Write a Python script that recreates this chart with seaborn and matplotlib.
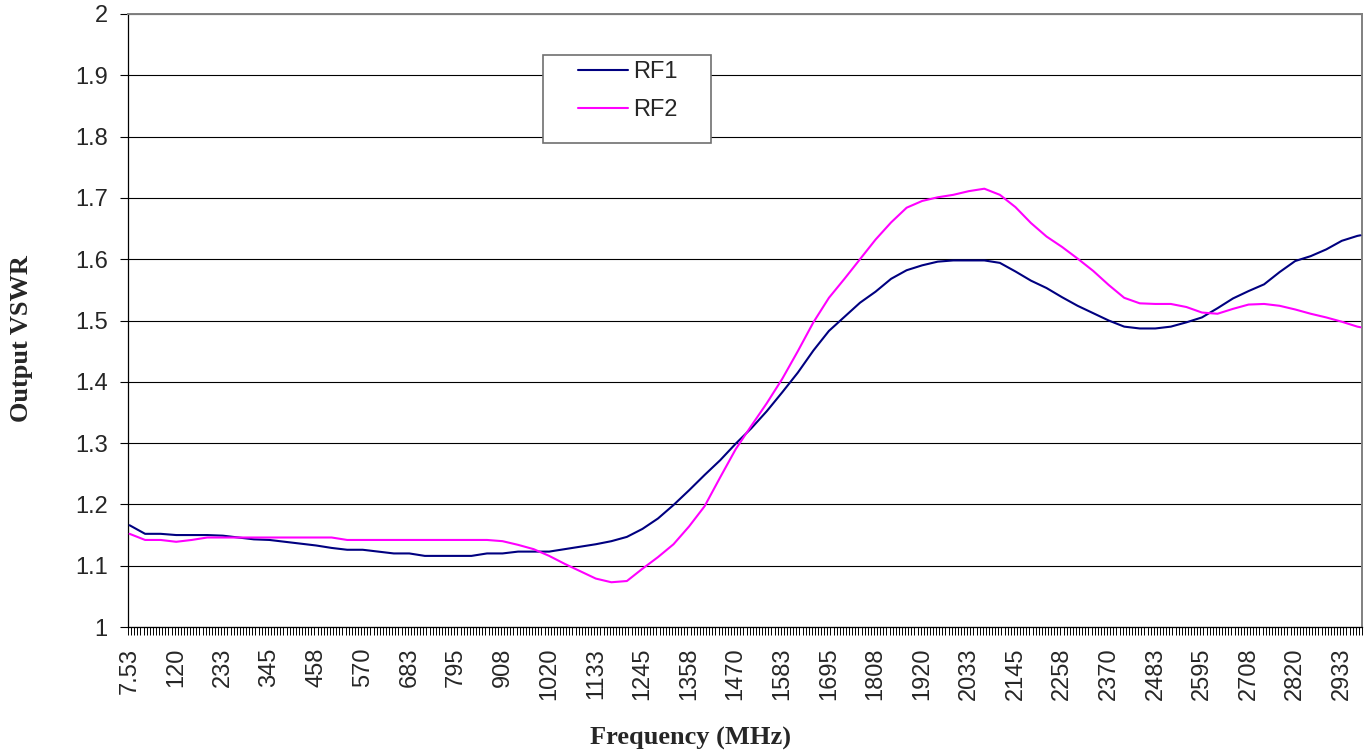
import numpy as np
import pandas as pd
import matplotlib
matplotlib.use("Agg")
import matplotlib.pyplot as plt
from matplotlib.patches import Rectangle
import seaborn as sns

# ---------------- data ----------------
freq_mhz = [7.53, 45.03, 82.53, 120.03, 157.53, 195.03, 232.53, 270.03, 307.53, 345.03,
            382.53, 420.03, 457.53, 495.03, 532.53, 570.03, 607.53, 645.03, 682.53, 720.03,
            757.53, 795.03, 832.53, 870.03, 907.53, 945.03, 982.53, 1020.03, 1057.53, 1095.03,
            1132.53, 1170.03, 1207.53, 1245.03, 1282.53, 1320.03, 1357.53, 1395.03, 1432.53, 1470.03,
            1507.53, 1545.03, 1582.53, 1620.03, 1657.53, 1695.03, 1732.53, 1770.03, 1807.53, 1845.03,
            1882.53, 1920.03, 1957.53, 1995.03, 2032.53, 2070.03, 2107.53, 2145.03, 2182.53, 2220.03,
            2257.53, 2295.03, 2332.53, 2370.03, 2407.53, 2445.03, 2482.53, 2520.03, 2557.53, 2595.03,
            2632.53, 2670.03, 2707.53, 2745.03, 2782.53, 2820.03, 2857.53, 2895.03, 2932.53, 2970.03,
            2977.53]

rf1_vswr = [1.166, 1.152, 1.152, 1.150, 1.150, 1.150, 1.149, 1.146, 1.143, 1.142,
            1.139, 1.136, 1.133, 1.129, 1.126, 1.126, 1.123, 1.120, 1.120, 1.116,
            1.116, 1.116, 1.116, 1.120, 1.120, 1.123, 1.123, 1.123, 1.127, 1.131,
            1.135, 1.140, 1.147, 1.160, 1.177, 1.199, 1.223, 1.248, 1.272, 1.299,
            1.324, 1.352, 1.383, 1.415, 1.451, 1.483, 1.506, 1.529, 1.547, 1.568,
            1.582, 1.590, 1.596, 1.598, 1.598, 1.598, 1.594, 1.580, 1.565, 1.553,
            1.538, 1.524, 1.512, 1.500, 1.490, 1.487, 1.487, 1.490, 1.497, 1.505,
            1.520, 1.536, 1.548, 1.559, 1.579, 1.597, 1.605, 1.616, 1.630, 1.638,
            1.639]

rf2_vswr = [1.152, 1.142, 1.142, 1.139, 1.142, 1.146, 1.146, 1.146, 1.146, 1.146,
            1.146, 1.146, 1.146, 1.146, 1.142, 1.142, 1.142, 1.142, 1.142, 1.142,
            1.142, 1.142, 1.142, 1.142, 1.140, 1.134, 1.127, 1.116, 1.103, 1.091,
            1.079, 1.073, 1.075, 1.095, 1.114, 1.135, 1.164, 1.197, 1.244, 1.290,
            1.328, 1.365, 1.405, 1.450, 1.497, 1.537, 1.568, 1.600, 1.632, 1.660,
            1.684, 1.695, 1.701, 1.705, 1.711, 1.715, 1.705, 1.685, 1.659, 1.637,
            1.620, 1.601, 1.581, 1.558, 1.537, 1.528, 1.527, 1.527, 1.522, 1.513,
            1.511, 1.519, 1.526, 1.527, 1.524, 1.518, 1.511, 1.505, 1.498, 1.490,
            1.489]

series_names = ["RF1", "RF2"]
series_colors = {"RF1": "#000080", "RF2": "#FF00FF"}

x_tick_labels = ["7.53", "120", "233", "345", "458", "570", "683", "795", "908", "1020",
                 "1133", "1245", "1358", "1470", "1583", "1695", "1808", "1920", "2033",
                 "2145", "2258", "2370", "2483", "2595", "2708", "2820", "2933"]
y_tick_values = [1.0, 1.1, 1.2, 1.3, 1.4, 1.5, 1.6, 1.7, 1.8, 1.9, 2.0]
y_tick_labels = ["1", "1.1", "1.2", "1.3", "1.4", "1.5", "1.6", "1.7", "1.8", "1.9", "2"]

freq_step = 7.5  # sweep spacing (category width) in MHz
x_title = "Frequency (MHz)"
y_title = "Output VSWR"

# ---------------- figure ----------------
sns.set_theme(style="white")
plt.rcParams['font.family'] = ['Liberation Sans', 'DejaVu Sans']

W, H = 1367, 755
fig = plt.figure(figsize=(W / 100, H / 100), dpi=100)
ax = fig.add_axes([128 / W, (H - 627) / H, (1362 - 128) / W, (627 - 14) / H])

n = len(freq_mhz)
df = pd.DataFrame({
    "Frequency": freq_mhz * 2,
    "VSWR": rf1_vswr + rf2_vswr,
    "Series": [series_names[0]] * n + [series_names[1]] * n,
})
sns.lineplot(data=df, x="Frequency", y="VSWR", hue="Series", hue_order=series_names,
             palette=series_colors, linewidth=1.5, estimator=None, sort=False,
             legend=False, ax=ax, zorder=3)

x_lo = freq_mhz[0] - freq_step / 2
x_hi = freq_mhz[-1] + freq_step / 2
ax.set_xlim(x_lo, x_hi)
ax.set_ylim(1.0, 2.0)

# y axis
ax.set_yticks(y_tick_values)
ax.set_yticklabels(y_tick_labels)
ax.tick_params(axis="y", which="major", direction="out", length=6, width=0.8,
               color="black", pad=8.5, labelsize=17, left=True)

# x axis: labels at category centres, ticks at category boundaries
ax.set_xticks([float(s) for s in x_tick_labels])
ax.set_xticklabels(x_tick_labels, rotation=90)
ax.set_xticks(np.arange(x_lo, x_hi + 0.01, freq_step), minor=True)
ax.tick_params(axis="x", which="major", length=0, pad=15, labelsize=17, bottom=True)
ax.tick_params(axis="x", which="minor", direction="out", length=6, width=0.7,
               color="black", bottom=True)
for lab in ax.get_xticklabels():
    lab.set_va("top")
    lab.set_ha("center")

ax.set_xlabel("")
ax.set_ylabel("")

# grid
ax.set_axisbelow(True)
ax.yaxis.grid(True, color="black", linewidth=0.8)
ax.xaxis.grid(False)

for side in ["left", "bottom"]:
    ax.spines[side].set_color("black")
    ax.spines[side].set_linewidth(0.9)
for side in ["top", "right"]:
    ax.spines[side].set_color("#808080")
    ax.spines[side].set_linewidth(1.4)

# axis titles
fig.text(22 / W, 1 - 339 / H, y_title, rotation=90, ha="center", va="center",
         fontsize=19, fontweight="bold", family=["Liberation Serif", "DejaVu Serif"])
fig.text(690 / W, 1 - 738 / H, x_title, ha="center", va="center",
         fontsize=19, fontweight="bold", family=["Liberation Serif", "DejaVu Serif"])

# legend box
ax.add_patch(Rectangle((543 / W, 1 - 143 / H), 168 / W, 88 / H, transform=fig.transFigure,
                       facecolor="white", edgecolor="#707070", linewidth=1.2,
                       zorder=4, clip_on=False))
handles = ax.get_lines()[:2]
leg = ax.legend(handles=handles, labels=series_names, loc="upper left",
                bbox_to_anchor=(578 / W, 1 - 61 / H), bbox_transform=fig.transFigure,
                frameon=False, borderpad=0, borderaxespad=0, handlelength=2.1,
                handletextpad=0.22, labelspacing=0.68, fontsize=17)
leg.set_zorder(6)
for line in leg.get_lines():
    line.set_linewidth(1.5)

fig.savefig("out.png", dpi=100)
